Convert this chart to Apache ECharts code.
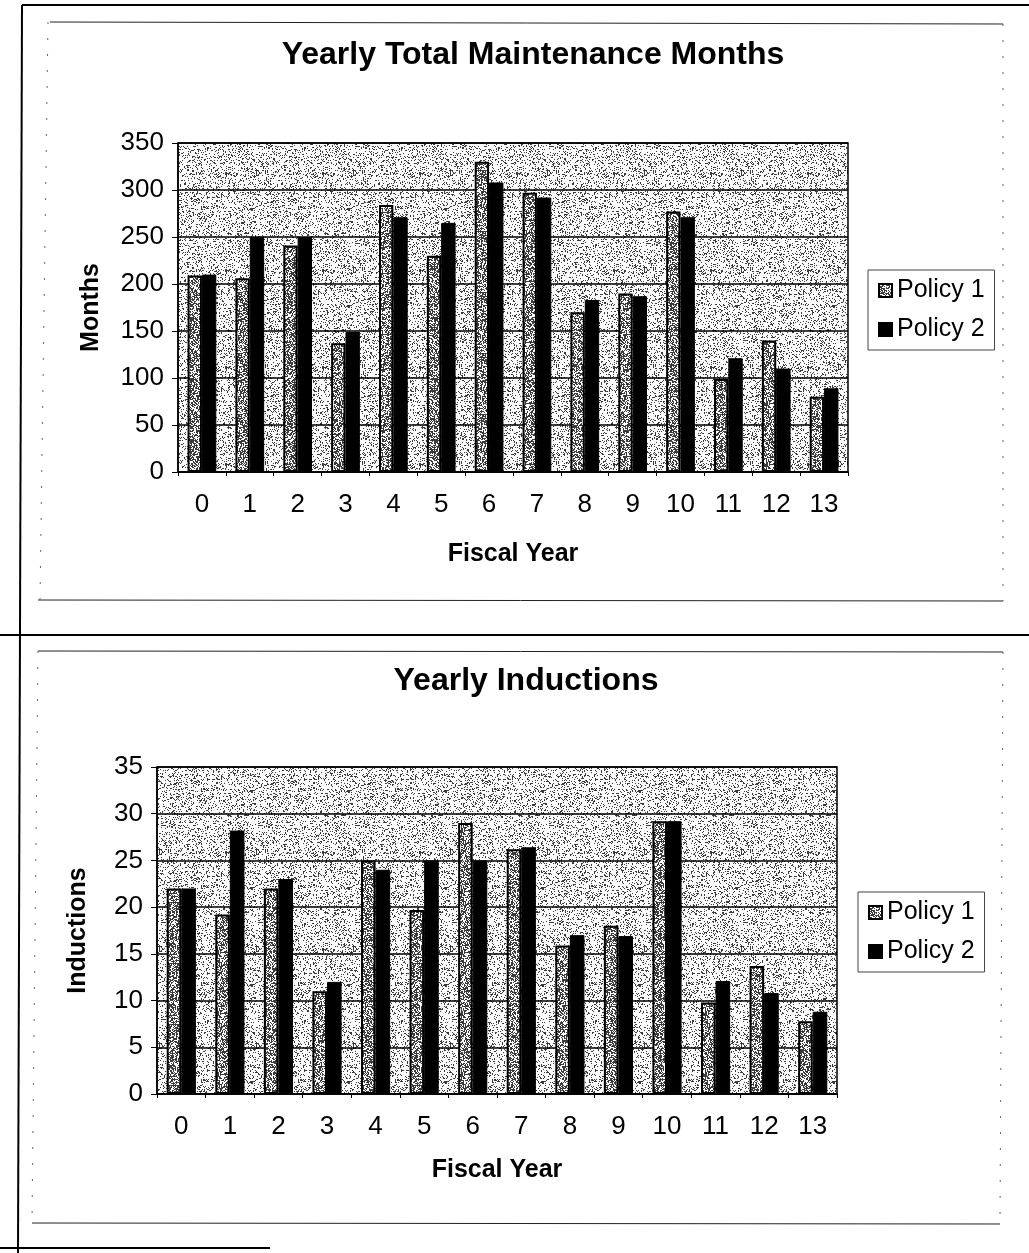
<!DOCTYPE html>
<html>
<head>
<meta charset="utf-8">
<script src="https://cdn.jsdelivr.net/npm/echarts@6/dist/echarts.min.js"></script>
<style>
html,body{margin:0;padding:0;background:#fff;}
#chart{width:1029px;height:1253px;}
</style>
</head>
<body>
<div id="chart"></div>
<script>
// ---- data ----
var fiscalYears = ['0','1','2','3','4','5','6','7','8','9','10','11','12','13'];
var monthsPolicy1 = [209, 206, 241, 137, 284, 230, 330, 297, 170, 190, 277, 99, 140, 80];
var monthsPolicy2 = [210, 250, 250, 149, 271, 265, 308, 292, 183, 187, 271, 121, 110, 89];
var inductionsPolicy1 = [22, 19.2, 22, 11, 25, 19.7, 29, 26.2, 15.9, 18, 29.2, 9.8, 13.7, 7.8];
var inductionsPolicy2 = [22, 28.2, 23, 12, 24, 25, 25, 26.4, 17, 16.9, 29.2, 12.1, 10.8, 8.8];
var seriesNames = ['Policy 1', 'Policy 2'];

// ---- deterministic speckle textures (styling only) ----
function speckle(size, density, dark, light) {
  var c = document.createElement('canvas');
  c.width = size; c.height = size;
  var ctx = c.getContext('2d');
  ctx.fillStyle = light; ctx.fillRect(0, 0, size, size);
  ctx.fillStyle = dark;
  for (var y = 0; y < size; y++) {
    for (var x = 0; x < size; x++) {
      var h = Math.sin(x * 12.9898 + y * 78.233) * 43758.5453;
      h = h - Math.floor(h);
      if (h < density) ctx.fillRect(x, y, 1, 1);
    }
  }
  return { image: c, repeat: 'repeat' };
}
var bgPattern = speckle(97, 0.21, '#3a3a3a', '#fbfbfb');
var p1Pattern = speckle(61, 0.55, '#3a3a3a', '#ffffff');

var FONT = '"Liberation Sans", Arial, sans-serif';
var chart = echarts.init(document.getElementById('chart'), null, { renderer: 'canvas' });

function yAxisCfg(gridIndex, max, interval, name, nameGap) {
  return {
    type: 'value', gridIndex: gridIndex, min: 0, max: max, interval: interval,
    name: name, nameLocation: 'middle', nameGap: nameGap, nameRotate: 90,
    nameTextStyle: { fontFamily: FONT, fontSize: 25, fontWeight: 'bold', color: '#000' },
    axisLine: { show: true, lineStyle: { color: '#000', width: 1.5 } },
    axisTick: { show: true, length: 6, lineStyle: { color: '#000', width: 1 } },
    axisLabel: { fontFamily: FONT, fontSize: 26, color: '#000', margin: 14 },
    splitLine: { show: true, lineStyle: { color: '#000', width: 1.5 } }
  };
}
function xAxisCfg(gridIndex, nameGap) {
  return {
    type: 'category', gridIndex: gridIndex, data: fiscalYears,
    name: 'Fiscal Year', nameLocation: 'middle', nameGap: nameGap,
    nameTextStyle: { fontFamily: FONT, fontSize: 25, fontWeight: 'bold', color: '#000' },
    axisLine: { show: true, lineStyle: { color: '#000', width: 1.5 } },
    axisTick: { show: true, length: 4, lineStyle: { color: '#000', width: 1 } },
    axisLabel: { fontFamily: FONT, fontSize: 26, color: '#000', margin: 20 },
    splitLine: { show: false }
  };
}
function barSeries(name, xi, yi, data, isP1) {
  return {
    name: name, type: 'bar', xAxisIndex: xi, yAxisIndex: yi, data: data,
    barGap: '0%', barCategoryGap: '40%',
    itemStyle: isP1 ? { color: p1Pattern, borderColor: '#000', borderWidth: 2 }
                    : { color: '#000', borderColor: '#000', borderWidth: 1 },
    emphasis: { disabled: true }
  };
}
function legendCfg(left, top) {
  return {
    orient: 'vertical', left: left, top: top,
    data: seriesNames, icon: 'rect', itemWidth: 13, itemHeight: 13, itemGap: 14,
    padding: [8, 10, 8, 10],
    borderColor: '#444', borderWidth: 1,
    textStyle: { fontFamily: FONT, fontSize: 25, color: '#000' },
    selectedMode: false
  };
}

var option = {
  backgroundColor: '#fff',
  animation: false,
  title: [
    { text: 'Yearly Total Maintenance Months', left: 528, top: 34, textAlign: 'center',
      textStyle: { fontFamily: FONT, fontSize: 32, fontWeight: 'bold', color: '#000' } },
    { text: 'Yearly Inductions', left: 521, top: 660, textAlign: 'center',
      textStyle: { fontFamily: FONT, fontSize: 32, fontWeight: 'bold', color: '#000' } }
  ],
  legend: [ legendCfg(868, 270), legendCfg(858, 892) ],
  grid: [
    { left: 178, top: 143, width: 670, height: 329, show: true, backgroundColor: bgPattern,
      borderColor: '#000', borderWidth: 1.5 },
    { left: 157, top: 767, width: 680, height: 327, show: true, backgroundColor: bgPattern,
      borderColor: '#000', borderWidth: 1.5 }
  ],
  xAxis: [ xAxisCfg(0, 70), xAxisCfg(1, 64) ],
  yAxis: [ yAxisCfg(0, 350, 50, 'Months', 74), yAxisCfg(1, 35, 5, 'Inductions', 66) ],
  series: [
    barSeries(seriesNames[0], 0, 0, monthsPolicy1, true),
    barSeries(seriesNames[1], 0, 0, monthsPolicy2, false),
    barSeries(seriesNames[0], 1, 1, inductionsPolicy1, true),
    barSeries(seriesNames[1], 1, 1, inductionsPolicy2, false)
  ],
  graphic: [
    // page frame decorations
    { type: 'line', shape: { x1: 22, y1: 5, x2: 1029, y2: 5 }, style: { stroke: '#000', lineWidth: 2 } },
    { type: 'line', shape: { x1: 22, y1: 5, x2: 18, y2: 1253 }, style: { stroke: '#000', lineWidth: 2 } },
    { type: 'line', shape: { x1: 0, y1: 635, x2: 1029, y2: 635 }, style: { stroke: '#000', lineWidth: 2 } },
    { type: 'line', shape: { x1: 0, y1: 1248, x2: 270, y2: 1248 }, style: { stroke: '#000', lineWidth: 2 } },
    // chart boxes
    { type: 'line', shape: { x1: 50, y1: 22, x2: 1003, y2: 24 }, style: { stroke: '#222', lineWidth: 1 } },
    { type: 'line', shape: { x1: 38, y1: 600, x2: 1003, y2: 601 }, style: { stroke: '#222', lineWidth: 1 } },
    { type: 'line', shape: { x1: 1003, y1: 24, x2: 1003, y2: 601 }, style: { stroke: '#666', lineWidth: 1, lineDash: [2, 14] } },
    { type: 'line', shape: { x1: 48, y1: 22, x2: 40, y2: 600 }, style: { stroke: '#666', lineWidth: 1, lineDash: [2, 14] } },
    { type: 'line', shape: { x1: 38, y1: 651, x2: 1003, y2: 652 }, style: { stroke: '#222', lineWidth: 1 } },
    { type: 'line', shape: { x1: 32, y1: 1223, x2: 1000, y2: 1224 }, style: { stroke: '#222', lineWidth: 1 } },
    { type: 'line', shape: { x1: 1003, y1: 652, x2: 1000, y2: 1224 }, style: { stroke: '#666', lineWidth: 1, lineDash: [2, 14] } },
    { type: 'line', shape: { x1: 38, y1: 651, x2: 32, y2: 1223 }, style: { stroke: '#666', lineWidth: 1, lineDash: [2, 14] } }
  ]
};
chart.setOption(option);
</script>
</body>
</html>
